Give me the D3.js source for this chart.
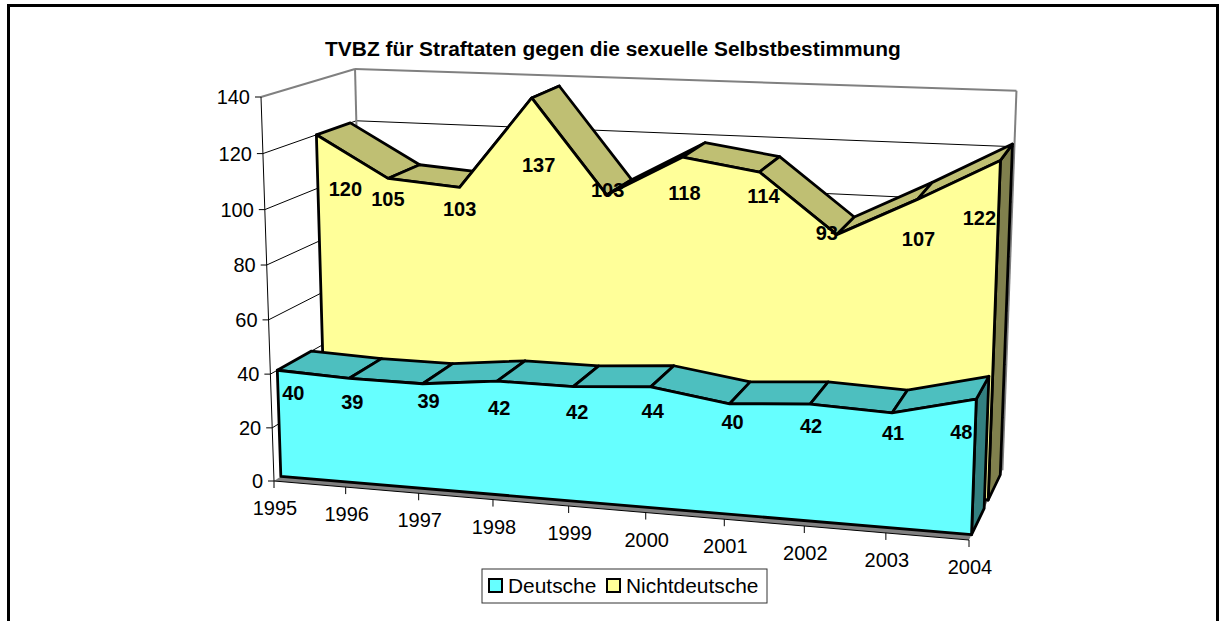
<!DOCTYPE html>
<html><head><meta charset="utf-8">
<script src="https://cdn.jsdelivr.net/npm/d3@7"></script>
<style>html,body{margin:0;background:#fff}svg{display:block}text{font-family:"Liberation Sans",Arial,sans-serif;fill:#000}</style>
</head><body><svg id="c" width="1219" height="621"></svg>
<script>
const years=[1995,1996,1997,1998,1999,2000,2001,2002,2003,2004];
const deutsche=[40,39,39,42,42,44,40,42,41,48];
const nichtdeutsche=[120,105,103,137,103,118,114,93,107,122];
const valueTicks=[0,20,40,60,80,100,120,140];
const title="TVBZ für Straftaten gegen die sexuelle Selbstbestimmung";
const seriesNames=["Deutsche","Nichtdeutsche"];

// label nudges from the top front vertex, px
const deutscheNudgeX=[16,3,6,2,4,2,3,1,1,-15];
const deutscheNudgeY=[23,23,17,27,25,24,18,22,20,33];
const nichtNudgeX=[29,0,0,7,1,2,4,-10,1,-21];
const nichtNudgeY=[54,20,21,67,-5,36,24,-2,39,57];

const svg=d3.select("#c");
const u=d3.scaleLinear().domain([0,years.length-1]).range([0,1]);
const v=d3.scaleLinear().domain([0,140]).range([0,1]);

// projective camera: origin, axis ends, homogeneous weights, depth vanishing point
const O=[274,481],U=[969,540],V=[261,97],VP=[1335,-223];
const wu=.92,wv=.964,t=.0925,skew=8;
function P(a,b,d){
  const du=u(a),dv=v(b);
  const den=1+du*(wu-1)+dv*(wv-1)+d*t;
  const q=[0,1].map(i=>(O[i]+du*(wu*U[i]-O[i])+dv*(wv*V[i]-O[i])+d*t*VP[i])/den);
  q[1]+=skew*du*dv*(1-d);
  return q;
}
const line=d3.line();
const n=years.length,last=n-1;
const path=(pts,fill,stroke,sw)=>svg.append("path").attr("d",line(pts)+"Z").attr("fill",fill)
  .attr("stroke",stroke).attr("stroke-width",sw).attr("stroke-linejoin","round");
const seg=(a,b,stroke,sw)=>svg.append("path").attr("d",line([a,b])).attr("fill","none").attr("stroke",stroke).attr("stroke-width",sw);

// frame
svg.append("path").attr("d","M8.5,621V5.5H1217.5V621").attr("fill","none").attr("stroke","#000").attr("stroke-width",3);

// floor
path([P(0,0,0),P(last,0,0),P(last,0,1),P(0,0,1)],"#808080","none",0);

// gridlines
valueTicks.forEach(val=>{
  const top=val===140;
  const col=top?"#808080":"#000", w=top?2:1;
  if(val>0){
    seg(P(0,val,0),P(0,val,1),col,w);
    seg(P(0,val,1),P(last,val,1),col,w);
  }
});
seg(P(0,0,1),P(0,140,1),"#808080",2);
seg(P(last,0,1),P(last,140,1),"#808080",2);

// axes
seg(P(0,0,0),P(0,140,0),"#000",1);
seg(P(0,0,0),P(last,0,0),"#000",1);
valueTicks.forEach(val=>{
  const p=P(0,val,0);
  seg([p[0]-6,p[1]],p,"#000",1);
  svg.append("text").attr("x",p[0]-11).attr("y",p[1]).attr("dy","0.36em").attr("text-anchor","end")
    .attr("font-size",20).text(val);
});
years.forEach((y,i)=>{
  const p=P(i,0,0);
  seg(p,[p[0],p[1]+7],"#000",1);
  svg.append("text").attr("x",p[0]+1).attr("y",p[1]+27).attr("dy","0.36em").attr("text-anchor","middle")
    .attr("font-size",20).text(y);
});

function area(vals,d0,d1,front,topC,side){
  // right side
  path([P(last,0,d0),P(last,vals[last],d0),P(last,vals[last],d1),P(last,0,d1)],side,"#000",2.8);
  // top faces
  d3.pairs(d3.range(n)).forEach(([a,b])=>{
    path([P(a,vals[a],d0),P(b,vals[b],d0),P(b,vals[b],d1),P(a,vals[a],d1)],topC,"#000",2.8);
  });
  // front
  const pts=[P(0,0,d0),...vals.map((x,i)=>P(i,x,d0)),P(last,0,d0)];
  path(pts,front,"#000",2.8);
}
area(nichtdeutsche,.55,.93,"#FFFF99","#BFBF73","#80804D");
area(deutsche,.07,.43,"#66FFFF","#4DBFBF","#338080");

function labels(vals,d,nx,ny){
  vals.forEach((x,i)=>{
    const p=P(i,x,d);
    svg.append("text").attr("x",p[0]+nx[i]).attr("y",p[1]+ny[i]).attr("dy","0.36em").attr("text-anchor","middle")
      .attr("font-size",20).attr("font-weight","bold").text(x);
  });
}
labels(nichtdeutsche,.55,nichtNudgeX,nichtNudgeY);
labels(deutsche,.07,deutscheNudgeX,deutscheNudgeY);

svg.append("text").attr("x",613).attr("y",48).attr("dy","0.36em").attr("text-anchor","middle")
  .attr("font-size",20.9).attr("font-weight","bold").text(title);

// legend
svg.append("rect").attr("x",482).attr("y",569).attr("width",285).attr("height",34).attr("fill","#fff").attr("stroke","#333").attr("stroke-width",1);
[[489,"#66FFFF",508],[607,"#FFFF99",626]].forEach(([x,c,tx],i)=>{
  svg.append("rect").attr("x",x).attr("y",579).attr("width",13).attr("height",13).attr("fill",c).attr("stroke","#000").attr("stroke-width",2);
  svg.append("text").attr("x",tx).attr("y",585).attr("dy","0.36em").attr("font-size",20.9).text(seriesNames[i]);
});
</script></body></html>
